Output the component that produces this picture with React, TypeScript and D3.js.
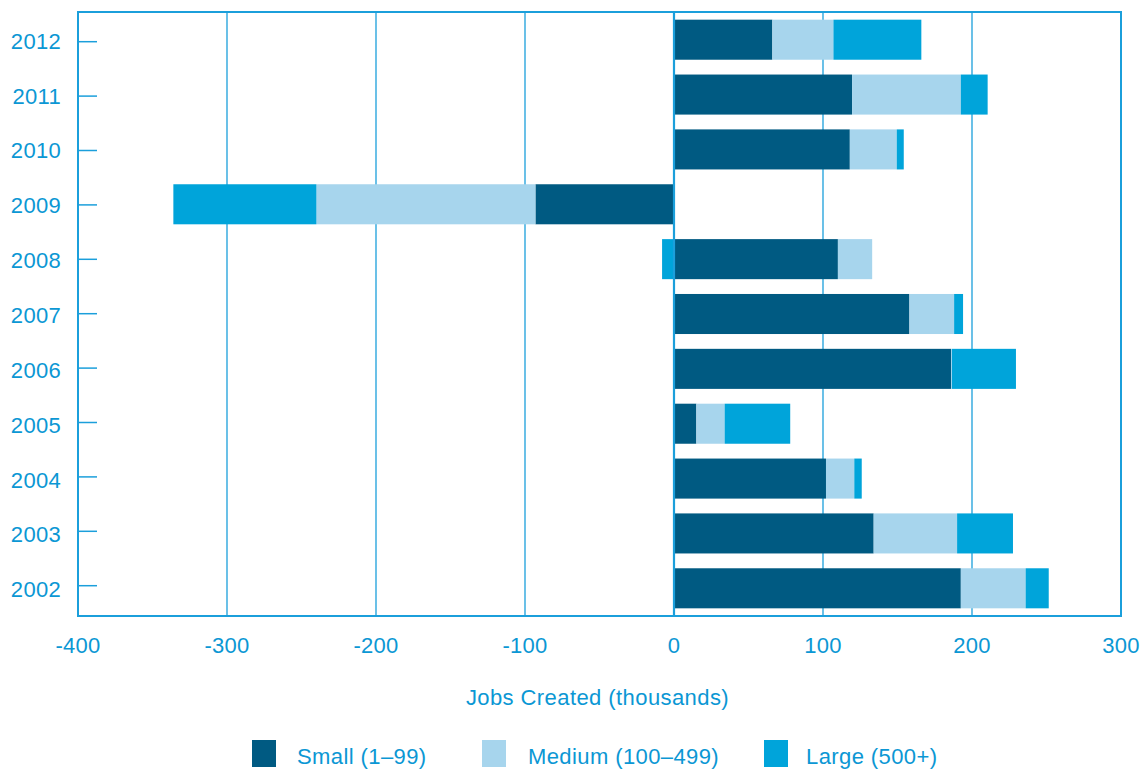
import React from "react";
import * as d3 from "d3";

const years = ["2012", "2011", "2010", "2009", "2008", "2007", "2006", "2005", "2004", "2003", "2002"];
const small = [66, 119.5, 118, -93, 110, 158, 186, 15, 102, 134, 192.5];
const medium = [41, 73, 31.5, -147, 23, 30, 0.5, 19, 19, 56, 43.5];
const large = [59, 18, 4.7, -96, -8, 6, 43, 44, 5, 37.5, 15.5];
const xTicks = [-400, -300, -200, -100, 0, 100, 200, 300];
const seriesNames = ["Small (1\u201399)", "Medium (100\u2013499)", "Large (500+)"];
const seriesKeys = ["small", "medium", "large"];
const colors = ["#005a82", "#a7d5ed", "#00a4da"];
const xTitle = "Jobs Created (thousands)";

const W = 1143;
const H = 769;
const M = { left: 78, right: 1121, top: 12, bottom: 616 };
const TEXT = "#0b97d4";
const LINE = "#1b9fdb";
const FONT = "'Liberation Sans', Arial, sans-serif";
const FS = 22;
const LS = 0.3;

export default function App() {
  const x = d3.scaleLinear().domain([-400, 300]).range([M.left, M.right]);
  const y = d3
    .scaleBand<string>()
    .domain(years)
    .range([M.top, M.bottom])
    .paddingInner(0.27)
    .paddingOuter(0.14);
  const yTick = d3.scalePoint<string>().domain(years).range([41.7, 585.7]);

  const rows = years.map((yr, i) => ({ year: yr, small: small[i], medium: medium[i], large: large[i] }));
  const stack = d3.stack<any>().keys(seriesKeys).offset(d3.stackOffsetDiverging);
  const layers = stack(rows);

  const legendX = [252, 482, 764];
  const legendTextX = [297, 528, 806];

  return (
    <svg width={W} height={H} style={{ position: "absolute", left: 0, top: 0, background: "#fff" }} fontFamily={FONT}>
      {/* gridlines */}
      {xTicks
        .filter((t) => t !== -400 && t !== 300 && t !== 0)
        .map((t) => (
          <line key={t} x1={x(t)} x2={x(t)} y1={M.top} y2={M.bottom} stroke={LINE} strokeWidth={1.3} />
        ))}
      {/* bars */}
      {layers.map((layer, li) =>
        layer.map((d, i) => {
          const x0 = x(Math.min(d[0], d[1]));
          const x1 = x(Math.max(d[0], d[1]));
          return (
            <rect
              key={li + "-" + i}
              x={x0}
              y={y(years[i])}
              width={Math.max(0, x1 - x0)}
              height={y.bandwidth()}
              fill={colors[li]}
            />
          );
        })
      )}
      {/* zero line */}
      <line x1={x(0)} x2={x(0)} y1={M.top} y2={M.bottom} stroke={LINE} strokeWidth={2.2} />
      {/* frame */}
      <rect
        x={M.left}
        y={M.top}
        width={M.right - M.left}
        height={M.bottom - M.top}
        fill="none"
        stroke={LINE}
        strokeWidth={2}
      />
      {/* y ticks and labels */}
      {years.map((yr) => {
        const cy = (y(yr) as number) + y.bandwidth() / 2;
        const ty = yTick(yr) as number;
        return (
          <g key={yr}>
            <line x1={M.left} x2={M.left + 19} y1={ty} y2={ty} stroke={LINE} strokeWidth={1.5} />
            <text
              x={61}
              y={cy + 1.5}
              textAnchor="end"
              dominantBaseline="central"
              fontSize={FS}
              fill={TEXT}
              letterSpacing={LS}
            >
              {yr}
            </text>
          </g>
        );
      })}
      {/* x labels */}
      {xTicks.map((t) => (
        <text key={t} x={x(t)} y={653} textAnchor="middle" fontSize={FS} fill={TEXT} letterSpacing={LS}>
          {t}
        </text>
      ))}
      <text x={597.5} y={705} textAnchor="middle" fontSize={FS} fill={TEXT} letterSpacing={0.42}>
        {xTitle}
      </text>
      {/* legend */}
      {seriesNames.map((name, i) => (
        <g key={name}>
          <rect x={legendX[i]} y={740} width={24} height={27} fill={colors[i]} />
          <text x={legendTextX[i]} y={764} fontSize={FS} fill={TEXT} letterSpacing={0.4}>
            {name}
          </text>
        </g>
      ))}
    </svg>
  );
}
